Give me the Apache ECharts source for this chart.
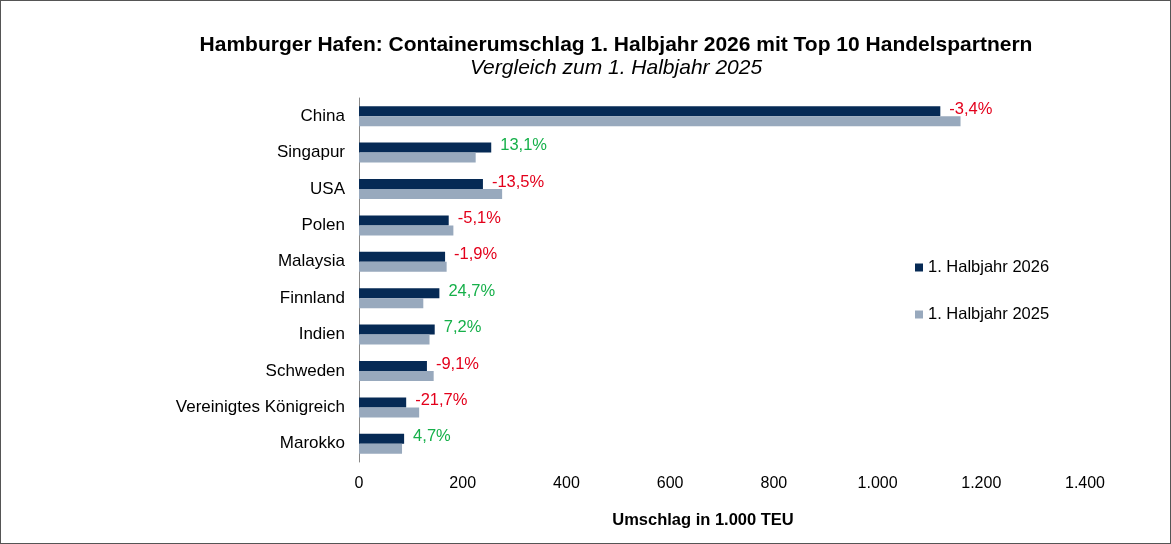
<!DOCTYPE html>
<html>
<head>
<meta charset="utf-8">
<script src="https://cdn.jsdelivr.net/npm/echarts@6/dist/echarts.min.js"></script>
<style>
html, body { margin: 0; padding: 0; background: #fff; }
#chart { width: 1171px; height: 544px; box-sizing: border-box; border: 1px solid #555; }
</style>
</head>
<body>
<div id="chart"></div>
<script>
var laender = ['China', 'Singapur', 'USA', 'Polen', 'Malaysia', 'Finnland', 'Indien', 'Schweden', 'Vereinigtes Königreich', 'Marokko'];
var werte2026 = [1121, 255, 239, 173, 166, 155, 146, 131, 91, 87];
var werte2025 = [1160, 225, 276, 182, 169, 124, 136, 144, 116, 83];
var veraenderung = ['-3,4%', '13,1%', '-13,5%', '-5,1%', '-1,9%', '24,7%', '7,2%', '-9,1%', '-21,7%', '4,7%'];
var xTicks = [0, 200, 400, 600, 800, 1000, 1200, 1400];

var myChart = echarts.init(document.getElementById('chart'));

function fmtNum(v) {
    return String(v).replace(/\B(?=(\d{3})+(?!\d))/g, '.');
}

var option = {
    textStyle: { fontFamily: 'Liberation Sans, Arial, sans-serif' },
    animation: false,
    title: [
        {
            text: 'Hamburger Hafen: Containerumschlag 1. Halbjahr 2026 mit Top 10 Handelspartnern',
            subtext: 'Vergleich zum 1. Halbjahr 2025',
            left: 610,
            top: 29,
            textAlign: 'center',
            itemGap: 2,
            textStyle: { fontSize: 21, fontWeight: 'bold', color: '#000' },
            subtextStyle: { fontSize: 21, fontStyle: 'italic', color: '#000' }
        },
        {
            text: 'Umschlag in 1.000 TEU',
            left: 697,
            top: 506,
            textAlign: 'center',
            textStyle: { fontSize: 16.5, fontWeight: 'bold', color: '#000' }
        }
    ],
    legend: {
        orient: 'vertical',
        left: 909,
        top: 253,
        itemWidth: 8,
        itemHeight: 8,
        itemGap: 30,
        icon: 'rect',
        textStyle: { fontSize: 16.5, color: '#000' },
        data: ['1. Halbjahr 2026', '1. Halbjahr 2025']
    },
    grid: {
        left: 358,
        right: 85,
        top: 97,
        bottom: 81,
        containLabel: false
    },
    xAxis: {
        type: 'value',
        min: 0,
        max: 1400,
        interval: 200,
        axisLine: { show: false },
        axisTick: { show: false },
        splitLine: { show: false },
        axisLabel: {
            fontSize: 16,
            color: '#000',
            margin: 14,
            formatter: function (v) { return xTicks.indexOf(v) >= 0 ? fmtNum(v) : ''; }
        }
    },
    yAxis: {
        type: 'category',
        inverse: true,
        data: laender,
        axisLine: { lineStyle: { color: '#888', width: 1 } },
        axisTick: { length: 5, lineStyle: { color: '#888' } },
        axisLabel: { fontSize: 17, color: '#000', margin: 14 }
    },
    series: [
        {
            name: '1. Halbjahr 2026',
            type: 'bar',
            barWidth: 10,
            barGap: '0%',
            itemStyle: { color: '#062a55' },
            label: {
                show: true,
                position: 'right',
                distance: 9,
                offset: [0, -2],
                fontSize: 16,
                formatter: function (p) {
                    var t = veraenderung[p.dataIndex];
                    return t.charAt(0) === '-' ? '{neg|' + t + '}' : '{pos|' + t + '}';
                },
                rich: {
                    neg: { color: '#e3001b', fontSize: 16.5 },
                    pos: { color: '#16b04a', fontSize: 16.5 }
                }
            },
            data: werte2026
        },
        {
            name: '1. Halbjahr 2025',
            type: 'bar',
            barWidth: 10,
            barGap: '0%',
            itemStyle: { color: '#98a9bd' },
            data: werte2025
        }
    ]
};
myChart.setOption(option);
</script>
</body>
</html>
